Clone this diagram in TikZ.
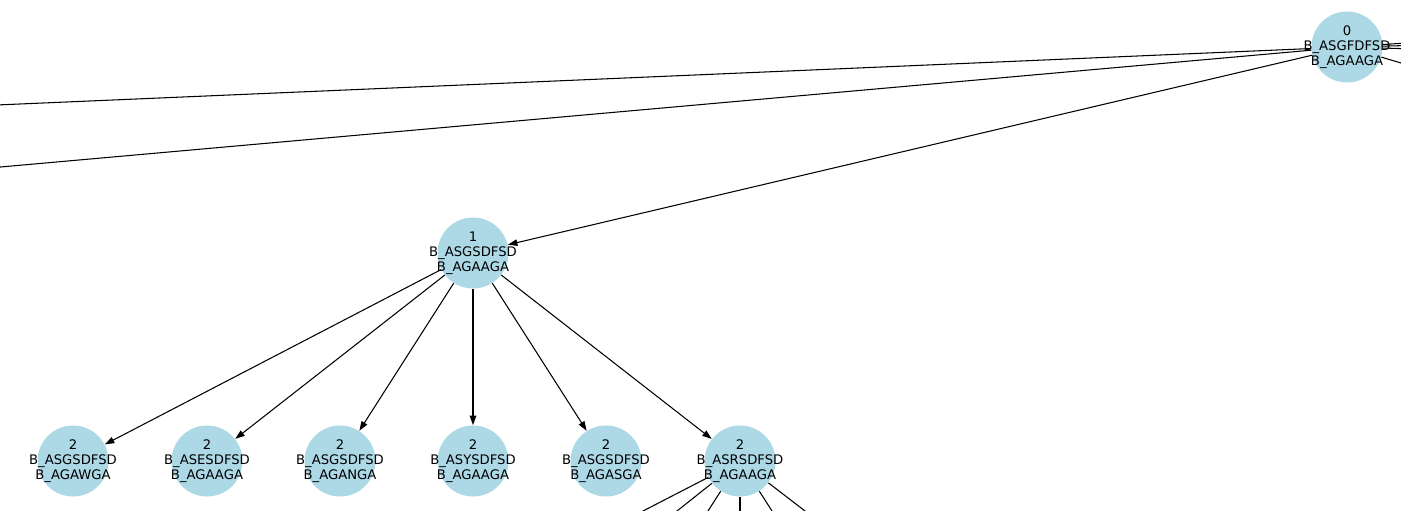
\documentclass[tikz,border=0pt]{standalone}
\usepackage{fontspec}
\setmainfont{DejaVu Sans}
\usepackage{tikz}
\usetikzlibrary{arrows.meta,positioning,calc}
\definecolor{nodeblue}{RGB}{173,216,230}

\begin{document}
\begin{tikzpicture}[
  vert/.style={
    circle, fill=nodeblue, draw=none,
    minimum size=1.42cm, inner sep=0pt
  },
  lbl/.style={
    align=center, inner sep=0pt,
    font=\fontsize{7.5}{8.4}\selectfont
  },
  arr/.style={-{Stealth[length=1.9mm,width=1.3mm,inset=0pt]}, line width=0.6pt, color=black},
  cut/.style={line width=0.6pt, color=black}
]
  % Frame
  \clip (0,0) rectangle (28.02,10.22);

  % Root
  \node[vert, label={[lbl]center:{0\\B\_ASGFDFSD\\B\_AGAAGA}}] (n0) at (26.94,9.28) {};

  % Level 1
  \node[vert, label={[lbl]center:{1\\B\_ASGSDFSD\\B\_AGAAGA}}] (n1) at (9.46,5.16) {};

  % Level 2
  \node[vert, label={[lbl]center:{2\\B\_ASGSDFSD\\B\_AGAWGA}}] (n2a) at (1.46,1.00) {};
  \node[vert, label={[lbl]center:{2\\B\_ASESDFSD\\B\_AGAAGA}}] (n2b) at (4.14,1.00) {};
  \node[vert, label={[lbl]center:{2\\B\_ASGSDFSD\\B\_AGANGA}}] (n2c) at (6.80,1.00) {};
  \node[vert, label={[lbl]center:{2\\B\_ASYSDFSD\\B\_AGAAGA}}] (n2d) at (9.46,1.00) {};
  \node[vert, label={[lbl]center:{2\\B\_ASGSDFSD\\B\_AGASGA}}] (n2e) at (12.12,1.00) {};
  \node[vert, label={[lbl]center:{2\\B\_ASRSDFSD\\B\_AGAAGA}}] (n2f) at (14.80,1.00) {};

  % Off-picture ends
  \coordinate (offl1) at (-1,8.08);
  \coordinate (offl2) at (-1,6.79);
  \coordinate (offr1) at (29,9.42);
  \coordinate (offr2) at (29,9.33);
  \coordinate (offr3) at (29,9.22);
  \coordinate (offr4) at (29,8.67);
  \coordinate (offb1) at (11.89,-0.5);
  \coordinate (offb2) at (12.91,-0.5);
  \coordinate (offb3) at (13.84,-0.5);
  \coordinate (offb4) at (14.80,-0.5);
  \coordinate (offb5) at (15.76,-0.5);
  \coordinate (offb6) at (16.75,-0.5);

  % Arrows
  \draw[arr] (n0) -- (n1);
  \foreach \to in {n2a, n2b, n2c, n2d, n2e, n2f} {
    \draw[arr] (n1) -- (\to);
  }

  % Edges leaving the picture
  \foreach \to in {offl1, offl2, offr1, offr2, offr3, offr4} {
    \draw[cut] (n0) -- (\to);
  }
  \foreach \to in {offb1, offb2, offb3, offb4, offb5, offb6} {
    \draw[cut] (n2f) -- (\to);
  }
\end{tikzpicture}
\end{document}
